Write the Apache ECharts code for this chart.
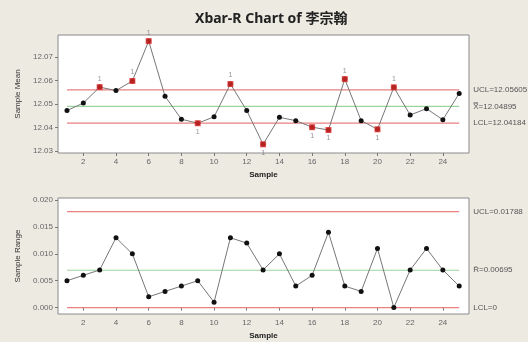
<!DOCTYPE html>
<html>
<head>
<meta charset="utf-8">
<script src="https://cdn.jsdelivr.net/npm/echarts@6/dist/echarts.min.js"></script>
<style>
  html, body { margin: 0; padding: 0; background: #edeae2; }
  #chart { width: 528px; height: 342px; }
</style>
</head>
<body>
<div id="chart"></div>
<script>
// 样本号
var samples = [1,2,3,4,5,6,7,8,9,10,11,12,13,14,15,16,17,18,19,20,21,22,23,24,25];
// 均值
var meanValues = [12.0472,12.0504,12.0572,12.0557,12.0598,12.0768,12.0533,12.0435,12.0418,12.0445,
  12.0585,12.0472,12.0328,12.0443,12.0429,12.0401,12.0389,12.0606,12.0429,12.0392,
  12.0571,12.0453,12.0480,12.0433,12.0545];
// 极差
var rangeValues = [0.005,0.006,0.007,0.013,0.010,0.002,0.003,0.004,0.005,0.001,
  0.013,0.012,0.007,0.010,0.004,0.006,0.014,0.004,0.003,0.011,
  0.000,0.007,0.011,0.007,0.004];
// 失控点
var flaggedMean = [3,5,6,9,11,13,16,17,18,20,21];
var meanLimits = { ucl: 12.05605, cl: 12.04895, lcl: 12.04184 };
var rangeLimits = { ucl: 0.01788, cl: 0.00695, lcl: 0 };
var xTicks = [2,4,6,8,10,12,14,16,18,20,22,24];
var meanTicks = [12.03,12.04,12.05,12.06,12.07];
var rangeTicks = [0,0.005,0.01,0.015,0.02];

var chart = echarts.init(document.getElementById('chart'));

var font = 'Liberation Sans';
var labelStyle = { color: '#666', fontSize: 8, fontFamily: font };

function xAxisOf(gi) {
  return {
    type: 'value', gridIndex: gi, min: 0.45, max: 25.6,
    name: 'Sample', nameLocation: 'middle', nameGap: 18,
    nameTextStyle: { color: '#222', fontSize: 8, fontWeight: 'bold', fontFamily: font },
    axisLine: { show: false },
    axisTick: { show: true, length: 3, lineStyle: { color: '#777' }, customValues: xTicks },
    axisLabel: Object.assign({ margin: 5, customValues: xTicks }, labelStyle),
    splitLine: { show: false }
  };
}

// 控制限，单独的系列放在折线下面
function limitSeries(gi, v, color, txt) {
  return {
    type: 'line', xAxisIndex: gi, yAxisIndex: gi,
    data: [[1, v], [25, v]],
    symbol: 'none', silent: true, z: 1,
    lineStyle: { color: color, width: 1.2 },
    endLabel: { show: true, formatter: txt, distance: 14, color: '#555', fontSize: 8, fontFamily: font }
  };
}

var red = '#e88080', green = '#9bd59b';

var meanData = samples.map(function (s, i) { return [s, meanValues[i]]; });
var rangeData = samples.map(function (s, i) { return [s, rangeValues[i]]; });
var flagData = flaggedMean.map(function (s) {
  var v = meanValues[s - 1];
  return {
    value: [s, v],
    label: { position: v > meanLimits.cl ? 'top' : 'bottom' }
  };
});

chart.setOption({
  backgroundColor: '#edeae2',
  animation: false,
  title: {
    text: 'Xbar-R Chart of 李宗翰',
    left: 190, top: 7,
    textStyle: { fontSize: 14, fontWeight: 'bold', color: '#222', fontFamily: "'Noto Sans', 'Noto Sans CJK SC'" }
  },
  grid: [
    { left: 58, right: 59, top: 35, height: 118, show: true, backgroundColor: '#fff', borderColor: '#8a8a8a', borderWidth: 1 },
    { left: 58, right: 59, top: 198, height: 116, show: true, backgroundColor: '#fff', borderColor: '#8a8a8a', borderWidth: 1 }
  ],
  xAxis: [xAxisOf(0), xAxisOf(1)],
  yAxis: [
    {
      type: 'value', gridIndex: 0, min: 12.0291, max: 12.0794,
      name: 'Sample Mean', nameLocation: 'middle', nameGap: 32,
      nameTextStyle: { color: '#333', fontSize: 8, fontFamily: font },
      axisLine: { show: false },
      axisTick: { show: true, length: 3, lineStyle: { color: '#777' }, customValues: meanTicks },
      axisLabel: Object.assign({ margin: 5, customValues: meanTicks,
        formatter: function (v) { return v.toFixed(2); } }, labelStyle),
      splitLine: { show: false }
    },
    {
      type: 'value', gridIndex: 1, min: -0.0012, max: 0.0204,
      name: 'Sample Range', nameLocation: 'middle', nameGap: 32,
      nameTextStyle: { color: '#333', fontSize: 8, fontFamily: font },
      axisLine: { show: false },
      axisTick: { show: true, length: 3, lineStyle: { color: '#777' }, customValues: rangeTicks },
      axisLabel: Object.assign({ margin: 5, customValues: rangeTicks,
        formatter: function (v) { return v.toFixed(3); } }, labelStyle),
      splitLine: { show: false }
    }
  ],
  series: [
    limitSeries(0, meanLimits.ucl, red, 'UCL=' + meanLimits.ucl.toFixed(5)),
    limitSeries(0, meanLimits.cl, green, 'X\u033F=' + meanLimits.cl.toFixed(5)),
    limitSeries(0, meanLimits.lcl, red, 'LCL=' + meanLimits.lcl.toFixed(5)),
    limitSeries(1, rangeLimits.ucl, red, 'UCL=' + rangeLimits.ucl),
    limitSeries(1, rangeLimits.cl, green, 'R\u0304=' + rangeLimits.cl),
    limitSeries(1, rangeLimits.lcl, red, 'LCL=' + rangeLimits.lcl),
    {
      type: 'line', xAxisIndex: 0, yAxisIndex: 0, data: meanData,
      symbol: 'circle', symbolSize: 5,
      lineStyle: { color: '#777', width: 1 },
      itemStyle: { color: '#111' },
      z: 3
    },
    {
      type: 'scatter', xAxisIndex: 0, yAxisIndex: 0, data: flagData,
      symbol: 'rect', symbolSize: 6,
      itemStyle: { color: '#e02828' },
      label: { show: true, formatter: '1', distance: 2, color: '#777', fontSize: 7, fontFamily: font },
      z: 4
    },
    {
      type: 'line', xAxisIndex: 1, yAxisIndex: 1, data: rangeData,
      symbol: 'circle', symbolSize: 5,
      lineStyle: { color: '#777', width: 1 },
      itemStyle: { color: '#111' },
      z: 3
    }
  ]
});
</script>
</body>
</html>
